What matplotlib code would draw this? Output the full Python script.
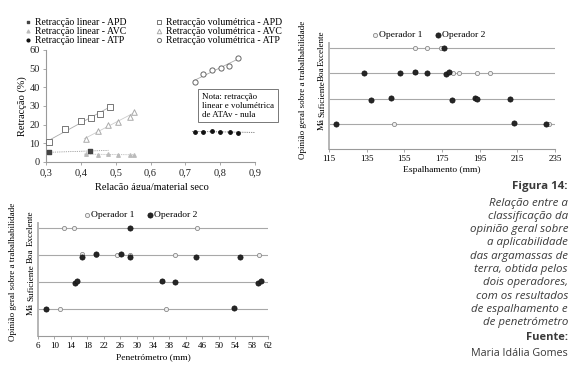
import matplotlib
matplotlib.use("Agg")
import matplotlib.pyplot as plt
from matplotlib.transforms import Bbox, TransformedBbox
import numpy as np

plt.rcParams["font.family"] = ["Liberation Serif", "DejaVu Serif"]

# ── data: retraction vs water/solid ratio ───────────────────────────────────
vol_apd_x = [0.31, 0.355, 0.40, 0.43, 0.455, 0.485]
vol_apd_y = [10.5, 17.7, 22.1, 23.6, 25.9, 29.6]
vol_avc_x = [0.415, 0.448, 0.478, 0.508, 0.540, 0.553]
vol_avc_y = [12.3, 16.8, 19.8, 21.6, 24.3, 26.9]
vol_atp_x = [0.728, 0.752, 0.777, 0.801, 0.826, 0.852]
vol_atp_y = [43.0, 47.0, 49.3, 50.5, 51.4, 55.9]
lin_apd_x = [0.31, 0.425]
lin_apd_y = [5.2, 5.9]
lin_avc_x = [0.415, 0.448, 0.478, 0.508, 0.540, 0.553]
lin_avc_y = [4.3, 4.0, 4.1, 3.9, 3.9, 3.9]
lin_atp_x = [0.728, 0.750, 0.776, 0.800, 0.827, 0.850]
lin_atp_y = [16.3, 16.2, 16.5, 16.0, 16.3, 15.8]
# x-range covered by each trend line
trend_apd = (0.30, 0.485)
trend_avc = (0.41, 0.555)
trend_atp = (0.725, 0.855)
trend_lin_apd = (0.30, 0.48)
trend_lin_avc = (0.41, 0.555)
trend_lin_atp = (0.72, 0.90)

# ── data: workability opinion vs spreading / penetrometer ───────────────────
levels = ["Má", "Suficiente", "Boa", "Excelente"]
esp_op1_x = [160.5, 167, 174.5, 160.5, 181, 184, 193.5, 200.5, 149.5, 232]
esp_op1_y = [4, 4, 4, 3.05, 3, 3, 3, 3, 1, 1]
esp_op2_x = [176, 133.5, 152.5, 160.5, 167, 177, 178.5,
             137.5, 148, 180.5, 192.5, 193.5, 211, 118.5, 213, 230]
esp_op2_y = [4, 3, 3, 3.06, 3, 2.96, 3.05,
             1.96, 2.04, 1.95, 2.03, 2.0, 2.0, 1, 1.05, 1]
pen_op1_x = [12.25, 14.7, 44.6, 16.8, 20.2, 25.2, 28.3, 39.4, 59.8,
             36.3, 8.0, 11.4, 37.1]
pen_op1_y = [4, 4, 4, 3.03, 3.0, 3.0, 3.02, 3.0, 3.0,
             2.03, 1, 1, 1]
pen_op2_x = [28.3, 16.8, 20.2, 26.3, 28.3, 44.4, 55.3,
             14.9, 15.5, 36.3, 39.3, 59.6, 60.2, 8.0, 53.8]
pen_op2_y = [4, 2.95, 3.05, 3.05, 2.95, 2.95, 2.95,
             1.96, 2.03, 2.03, 2.0, 1.96, 2.03, 1.0, 1.04]

caption = ["Relação entre a", "classificação da", "opinião geral sobre",
           "a aplicabilidade", "das argamassas de", "terra, obtida pelos",
           "dois operadores,", "com os resultados", "de espalhamento e",
           "de penetrómetro"]

W, H = 580, 365
fig = plt.figure(figsize=(W / 100, H / 100), dpi=100)


def px_axes(x0, y0, x1, y1):
    # pixel box (top-left origin) -> axes
    return fig.add_axes([x0 / W, 1 - y1 / H, (x1 - x0) / W, (y1 - y0) / H])


def trend(ax, xs, ys, rng, **kw):
    m, b = np.polyfit(xs, ys, 1)
    xx = np.array(rng)
    ax.plot(xx, m * xx + b, **kw)


AX_C = "#9a9a9a"

# ── top-left: retraction chart ──────────────────────────────────────────────
ax1 = px_axes(46, 50, 255, 162)
ax1.set_xlim(0.3, 0.9)
ax1.set_ylim(0, 60)
for s in ("top", "right"):
    ax1.spines[s].set_visible(False)
for s in ("left", "bottom"):
    ax1.spines[s].set_color(AX_C)
    ax1.spines[s].set_linewidth(0.8)
ax1.set_xticks(np.arange(0.3, 0.91, 0.1))
ax1.set_xticklabels([f"{v:.1f}".replace(".", ",") for v in np.arange(0.3, 0.91, 0.1)])
ax1.set_yticks(range(0, 61, 10))
ax1.tick_params(labelsize=7.5, colors="#222", length=2.5, pad=2, width=0.6)
ax1.tick_params(color=AX_C)
ax1.set_ylabel("Retracção (%)", fontsize=7.5, labelpad=2)

trend(ax1, vol_apd_x, vol_apd_y, trend_apd, color="#aaaaaa", lw=0.6)
trend(ax1, vol_avc_x, vol_avc_y, trend_avc, color="#cccccc", lw=0.6)
trend(ax1, vol_atp_x, vol_atp_y, trend_atp, color="#aaaaaa", lw=0.6)
trend(ax1, lin_apd_x, lin_apd_y, trend_lin_apd, color="#888888", lw=0.6, ls=(0, (1, 1.2)))
trend(ax1, lin_avc_x, lin_avc_y, trend_lin_avc, color="#aaaaaa", lw=0.6, ls=(0, (1, 1.2)))
trend(ax1, lin_atp_x, lin_atp_y, trend_lin_atp, color="#555555", lw=0.6, ls=(0, (1, 1.2)))

h_lin_apd = ax1.scatter(lin_apd_x, lin_apd_y, marker="s", s=5, c="#444", zorder=3)
h_lin_avc = ax1.scatter(lin_avc_x, lin_avc_y, marker="^", s=6, c="#bbbbbb", zorder=3)
h_lin_atp = ax1.scatter(lin_atp_x, lin_atp_y, marker="o", s=6, c="#111", zorder=3)
h_vol_apd = ax1.scatter(vol_apd_x, vol_apd_y, marker="s", s=18, facecolors="white",
                        edgecolors="#777", linewidths=0.7, zorder=3)
h_vol_avc = ax1.scatter(vol_avc_x, vol_avc_y, marker="^", s=16, facecolors="white",
                        edgecolors="#aaa", linewidths=0.7, zorder=3)
h_vol_atp = ax1.scatter(vol_atp_x, vol_atp_y, marker="o", s=14, facecolors="white",
                        edgecolors="#666", linewidths=0.7, zorder=3)

ax1.text(0.748, 37.0, "Nota: retracção\nlinear e volumétrica\nde ATAv - nula",
         fontsize=6.4, va="top", ha="left", linespacing=1.15, clip_on=False,
         bbox=dict(boxstyle="square,pad=0.4", fc="white", ec="#777", lw=0.7))

fig.legend([h_lin_apd, h_lin_avc, h_lin_atp, h_vol_apd, h_vol_avc, h_vol_atp],
           ["Retracção linear - APD", "Retracção linear - AVC", "Retracção linear - ATP",
            "Retracção volumétrica - APD", "Retracção volumétrica - AVC",
            "Retracção volumétrica - ATP"],
           ncol=2, loc="upper left", bbox_to_anchor=(24 / W, 1 - 18 / H),
           frameon=False, fontsize=7, handlelength=0.8, handletextpad=0.3,
           columnspacing=3.0, labelspacing=0.0, borderpad=0, borderaxespad=0,
           markerscale=0.8)

# the source image is cropped through the x label
xl = fig.text(152 / W, 1 - 187 / H, "Relação água/material seco", fontsize=7.5,
              ha="center", va="center")
xl.set_clip_box(TransformedBbox(Bbox([[0, 1 - 189.5 / H], [0.5, 1]]), fig.transFigure))
xl.set_clip_on(True)


# ── rating charts ───────────────────────────────────────────────────────────
def rating_axes(ax, xticks, xlabel):
    ax.set_ylim(0, 4.2)
    ax.set_xlim(xticks[0], xticks[-1])
    for s in ("top", "right"):
        ax.spines[s].set_visible(False)
    ax.spines["left"].set_color("#b5b5b5")
    ax.spines["left"].set_linewidth(1.4)
    ax.spines["bottom"].set_color(AX_C)
    ax.spines["bottom"].set_linewidth(0.8)
    for lv in range(1, 5):
        ax.axhline(lv, color="#a8a8a8", lw=0.8, zorder=1)
    ax.set_xticks(xticks)
    ax.set_yticks(range(1, 5))
    ax.set_yticklabels(levels, rotation=90, va="center", fontsize=6.5)
    ax.tick_params(axis="y", length=0, pad=2)
    ax.tick_params(axis="x", labelsize=6.5, length=2.5, color=AX_C, pad=2, width=0.6)
    ax.set_xlabel(xlabel, fontsize=6.8, labelpad=2)


def rating_points(ax, x1, y1, x2, y2):
    a = ax.scatter(x1, y1, s=9, facecolors="#f0f0f0", edgecolors="#8a8a8a",
                   linewidths=0.6, zorder=3)
    b = ax.scatter(x2, y2, s=14, facecolors="#262626", edgecolors="#111",
                   linewidths=0.5, zorder=4)
    return a, b


ax2 = px_axes(329, 43, 555, 149)
rating_axes(ax2, list(range(115, 236, 20)), "Espalhamento (mm)")
a2, b2 = rating_points(ax2, esp_op1_x, esp_op1_y, esp_op2_x, esp_op2_y)
fig.text(303 / W, 1 - 90 / H, "Opinião geral sobre a trabalhabilidade",
         rotation=90, ha="center", va="center", fontsize=6.5)
fig.legend([a2, b2], ["Operador 1", "Operador 2"], ncol=2, loc="center",
           bbox_to_anchor=(429 / W, 1 - 35 / H), frameon=False, fontsize=6.8,
           handlelength=0.5, handletextpad=0.2, columnspacing=1.3,
           borderpad=0, borderaxespad=0)

ax3 = px_axes(38, 223, 268, 336)
rating_axes(ax3, list(range(6, 63, 4)), "Penetrómetro (mm)")
a3, b3 = rating_points(ax3, pen_op1_x, pen_op1_y, pen_op2_x, pen_op2_y)
fig.text(13 / W, 1 - 272 / H, "Opinião geral sobre a trabalhabilidade",
         rotation=90, ha="center", va="center", fontsize=6.5)
fig.legend([a3, b3], ["Operador 1", "Operador 2"], ncol=2, loc="center",
           bbox_to_anchor=(141 / W, 1 - 215 / H), frameon=False, fontsize=6.8,
           handlelength=0.5, handletextpad=0.2, columnspacing=1.3,
           borderpad=0, borderaxespad=0)

# ── caption (sizes fitted to the widths seen in the reference) ─────────────
CAP_C = "#3a3a3a"
CAP_F = "Open Sans"
RX = 568 / W
rend = fig.canvas.get_renderer()


def fit(t, target_px):
    w = t.get_window_extent(rend).width
    t.set_fontsize(t.get_fontsize() * target_px / w)


t = fig.text(RX, 1 - 187 / H, "Figura 14:", ha="right", va="center",
             fontsize=10, fontweight="bold", family=CAP_F, color=CAP_C)
fit(t, 55)
lines = []
for i, line in enumerate(caption):
    lines.append(fig.text(RX, 1 - (203 + i * 13.3) / H, line, ha="right",
                          va="center", fontsize=10, style="italic",
                          family=CAP_F, color=CAP_C))
w_ref = lines[2].get_window_extent(rend).width
for t in lines:
    t.set_fontsize(10 * 98 / w_ref)
t = fig.text(RX, 1 - 338 / H, "Fuente:", ha="right", va="center",
             fontsize=10, fontweight="bold", family=CAP_F, color=CAP_C)
fit(t, 42)
t = fig.text(RX, 1 - 353 / H, "Maria Idália Gomes", ha="right", va="center",
             fontsize=10, family=CAP_F, color=CAP_C)
fit(t, 97)

fig.savefig("out.png", dpi=100)
